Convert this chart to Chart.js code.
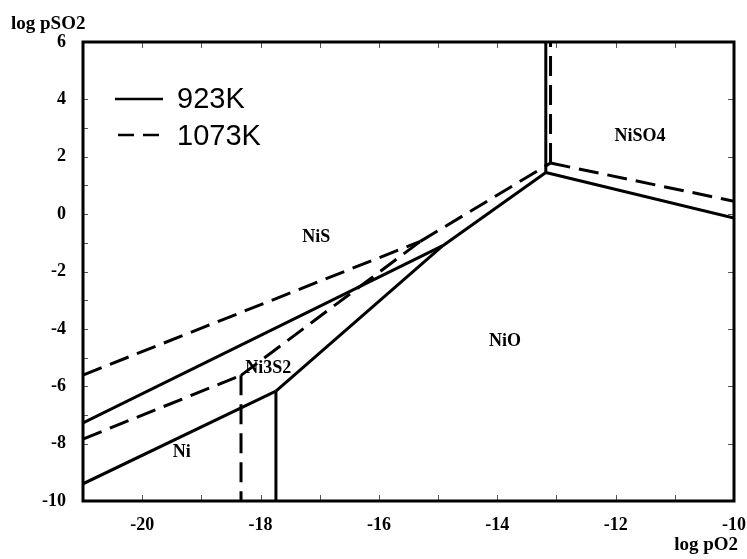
<!DOCTYPE html>
<html>
<head>
<meta charset="utf-8">
<script src="https://cdn.jsdelivr.net/npm/chart.js@4/dist/chart.umd.min.js"></script>
<style>
  html, body { margin: 0; padding: 0; background: #fff; }
  #wrap { width: 747px; height: 559px; position: relative; }
</style>
</head>
<body>
<div id="wrap"><canvas id="diagram"></canvas></div>
<script>
// axis ticks
const xTicks = [-20, -18, -16, -14, -12, -10];
const yTicks = [-10, -8, -6, -4, -2, 0, 2, 4, 6];

// phase boundaries at 923K (solid), points as [log pO2, log pSO2]
const niNi3s2_923 = [[-21, -9.4], [-17.74, -6.17]];
const niNio_923 = [[-17.74, -6.17], [-17.74, -10]];
const ni3s2Nio_923 = [[-17.74, -6.17], [-14.92, -1.1]];
const ni3s2Nis_923 = [[-21, -7.28], [-14.92, -1.1]];
const nisNio_923 = [[-14.92, -1.1], [-13.18, 1.45]];
const nisNiso4_923 = [[-13.18, 1.45], [-13.18, 6]];
const nioNiso4_923 = [[-13.18, 1.45], [-10, -0.14]];

// phase boundaries at 1073K (dashed)
const niNi3s2_1073 = [[-21, -7.84], [-18.33, -5.62]];
const niNio_1073 = [[-18.33, -5.62], [-18.33, -10]];
const ni3s2Nio_1073 = [[-18.33, -5.62], [-15.3, -0.95]];
const ni3s2Nis_1073 = [[-21, -5.61], [-15.3, -0.95]];
const nisNio_1073 = [[-15.3, -0.95], [-13.1, 1.78]];
const nisNiso4_1073 = [[-13.1, 1.78], [-13.1, 6]];
const nioNiso4_1073 = [[-13.1, 1.78], [-10, 0.45]];

// field names and where they sit
const fieldNames = ['NiS', 'Ni3S2', 'Ni', 'NiO', 'NiSO4'];
const fieldX = [-17.06, -17.87, -19.33, -13.87, -11.59];
const fieldY = [-0.82, -5.37, -8.29, -4.43, 2.72];

const legendNames = ['923K', '1073K'];

const serif = "'Liberation Serif', 'Times New Roman', serif";

function seg(points, dashed) {
    return {
        data: points.map(p => ({ x: p[0], y: p[1] })),
        showLine: true,
        borderColor: '#000',
        borderWidth: 3,
        borderDash: dashed ? [20, 9] : [],
        pointRadius: 0,
        fill: false,
        tension: 0
    };
}

const datasets = [
    niNi3s2_923, niNio_923, ni3s2Nio_923, ni3s2Nis_923, nisNio_923, nisNiso4_923, nioNiso4_923
].map(p => seg(p, false)).concat([
    niNi3s2_1073, niNio_1073, ni3s2Nio_1073, ni3s2Nis_1073, nisNio_1073, nisNiso4_1073, nioNiso4_1073
].map(p => seg(p, true)));

const decor = {
    id: 'decor',
    afterDatasetsDraw(chart) {
        const c = chart.ctx;
        const a = chart.chartArea;
        const xs = chart.scales.x, ys = chart.scales.y;
        c.save();

        // small inner ticks
        c.strokeStyle = '#555';
        c.lineWidth = 1;
        c.beginPath();
        for (let v = -20; v <= -11; v++) {
            const px = Math.round(xs.getPixelForValue(v)) + 0.5;
            c.moveTo(px, a.bottom); c.lineTo(px, a.bottom - 6);
            c.moveTo(px, a.top); c.lineTo(px, a.top + 6);
        }
        for (let v = -8; v <= 4; v++) {
            const py = Math.round(ys.getPixelForValue(v)) + 0.5;
            c.moveTo(a.left, py); c.lineTo(a.left + 5, py);
            if (v % 2 === 0) { c.moveTo(a.right, py); c.lineTo(a.right - 6, py); }
        }
        c.stroke();

        // frame
        c.strokeStyle = '#000';
        c.lineWidth = 3;
        c.setLineDash([]);
        c.strokeRect(a.left, a.top, a.right - a.left, a.bottom - a.top);

        // field labels
        c.fillStyle = '#000';
        c.textAlign = 'center';
        c.textBaseline = 'middle';
        c.font = 'bold 18px ' + serif;
        fieldNames.forEach((name, i) => {
            c.fillText(name, xs.getPixelForValue(fieldX[i]), ys.getPixelForValue(fieldY[i]));
        });

        // axis titles
        c.font = 'bold 19px ' + serif;
        c.textAlign = 'left';
        c.fillText('log pSO2', 11, 24);
        c.textAlign = 'right';
        c.fillText('log pO2', 738, 545);

        // legend
        c.lineWidth = 2.5;
        c.beginPath();
        c.moveTo(115, 99); c.lineTo(163, 99);
        c.stroke();
        c.setLineDash([16, 9]);
        c.beginPath();
        c.moveTo(118, 135); c.lineTo(159, 135);
        c.stroke();
        c.setLineDash([]);
        c.font = '29px "Liberation Sans", Arial, sans-serif';
        c.textAlign = 'left';
        c.fillText(legendNames[0], 177, 100);
        c.fillText(legendNames[1], 177, 137);

        c.restore();
    }
};

new Chart(document.getElementById('diagram'), {
    type: 'scatter',
    data: { datasets: datasets },
    options: {
        responsive: true,
        maintainAspectRatio: false,
        animation: false,
        layout: { padding: { top: 42, right: 13, left: 0, bottom: 0 } },
        plugins: {
            legend: { display: false },
            tooltip: { enabled: false }
        },
        scales: {
            x: {
                type: 'linear',
                min: -21,
                max: -10,
                grid: { display: false, drawTicks: false },
                border: { display: false },
                afterBuildTicks: s => { s.ticks = xTicks.map(v => ({ value: v })); },
                afterFit: s => { s.height = 58; s.paddingLeft = 0; s.paddingRight = 0; },
                ticks: {
                    color: '#000',
                    padding: 14,
                    font: { family: serif, size: 18, weight: 'bold' }
                }
            },
            y: {
                type: 'linear',
                min: -10,
                max: 6,
                grid: { display: false, drawTicks: false },
                border: { display: false },
                afterBuildTicks: s => { s.ticks = yTicks.map(v => ({ value: v })); },
                afterFit: s => { s.width = 83; s.paddingTop = 0; s.paddingBottom = 0; },
                ticks: {
                    color: '#000',
                    padding: 17,
                    font: { family: serif, size: 18, weight: 'bold' }
                }
            }
        }
    },
    plugins: [decor]
});
</script>
</body>
</html>
